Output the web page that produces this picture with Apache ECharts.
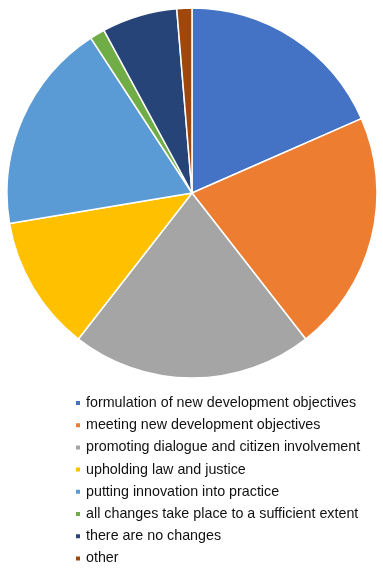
<!DOCTYPE html>
<html>
<head>
<meta charset="utf-8">
<script src="https://cdn.jsdelivr.net/npm/echarts@6/dist/echarts.min.js"></script>
<style>
  html, body { margin: 0; padding: 0; background: #fff; }
  #chart { width: 383px; height: 568px; }
</style>
</head>
<body>
<div id="chart"></div>
<script>
const categories = [
  'formulation of new development objectives',
  'meeting new development objectives',
  'promoting dialogue and citizen involvement',
  'upholding law and justice',
  'putting innovation into practice',
  'all changes take place to a sufficient extent',
  'there are no changes',
  'other'
]
const values = [14, 16, 16, 9, 14, 1, 5, 1]
const colors = ['#4472C4', '#ED7D31', '#A5A5A5', '#FFC000', '#5B9BD5', '#70AD47', '#264478', '#9E480E']

const chart = echarts.init(document.getElementById('chart'))
chart.setOption({
  animation: false,
  color: colors,
  legend: {
    orient: 'vertical',
    left: 69,
    top: 391,
    height: 200,
    icon: 'rect',
    itemWidth: 6,
    itemHeight: 6,
    itemGap: 8.2,
    textStyle: { fontFamily: 'Liberation Sans', fontSize: 14.3, color: '#111' },
    data: categories
  },
  series: [
    {
      type: 'pie',
      center: [192, 193],
      radius: [0, 185],
      startAngle: 90,
      clockwise: true,
      label: { show: false },
      labelLine: { show: false },
      emphasis: { disabled: true },
      itemStyle: { borderColor: '#fff', borderWidth: 1.5 },
      data: categories.map((name, i) => ({ name, value: values[i] }))
    }
  ]
})
</script>
</body>
</html>
